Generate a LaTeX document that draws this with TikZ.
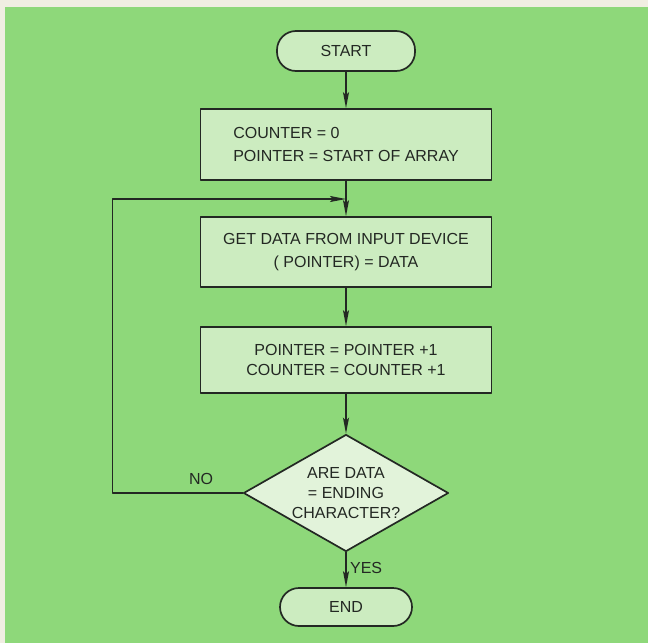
\documentclass[tikz,border=0pt]{standalone}
\usepackage{fontspec}
\setmainfont{Liberation Sans}
\usetikzlibrary{arrows.meta,shapes.geometric}

\definecolor{paperwhite}{RGB}{240,238,226}
\definecolor{boardgreen}{RGB}{142,216,122}
\definecolor{boxgreen}{RGB}{204,236,192}
\definecolor{testgreen}{RGB}{226,243,218}
\definecolor{inkblack}{RGB}{35,40,35}

\tikzset{
    termbox/.style={draw=inkblack,fill=boxgreen,line width=1.7pt,
        rounded corners=19pt,minimum height=40pt,inner sep=0pt},
    procbox/.style={draw=inkblack,fill=boxgreen,line width=1.7pt,
        minimum width=291pt,align=center,inner sep=0pt},
    testbox/.style={draw=inkblack,fill=testgreen,line width=1.7pt,diamond,
        aspect=1.75,inner sep=0pt,minimum width=205pt,minimum height=117pt,
        align=center},
    flow/.style={draw=inkblack,line width=1.5pt,
        -{Stealth[length=16pt,width=6pt,inset=3pt]}},
    lettering/.style={font=\fontsize{16}{23}\selectfont,text=inkblack}
}

\begin{document}
\begin{tikzpicture}[x=1pt,y=-1pt,line cap=round,line join=round]
        \useasboundingbox (0,0) rectangle (648,643);

        % Fondo
        \fill[paperwhite] (0,0) rectangle (648,643);
        \fill[boardgreen] (5,7) rectangle (648,643);

        % Bloques del diagrama
        \node[termbox,lettering,minimum width=138pt] (start) at (346,51) {START};
        \node[procbox,lettering,minimum height=71pt,align=left] (init) at (346,144.5)
            {COUNTER = 0\\POINTER = START OF ARRAY};
        \node[procbox,lettering,minimum height=70pt] (read) at (346,252)
            {GET DATA FROM INPUT DEVICE\\( POINTER) = DATA};
        \node[procbox,lettering,minimum height=66pt,
            font=\fontsize{16}{20}\selectfont] (advance) at (346,360)
            {POINTER = POINTER +1\\COUNTER = COUNTER +1};
        \node[testbox,lettering,font=\fontsize{16}{20}\selectfont] (test) at (346,493)
            {ARE DATA\\= ENDING\\CHARACTER?};
        \node[termbox,lettering,minimum width=132pt,minimum height=38pt] (finish)
            at (346,607) {END};
        \coordinate (merge) at (346,199);

        % Conexiones
        \draw[flow] (start) -- (init);
        \draw[flow] (init) -- (read);
        \draw[flow] (read) -- (advance);
        \draw[flow] (advance) -- (test);
        \draw[flow] (test) -- node[right,lettering,pos=0.45] {YES} (finish);

        % Regreso del lazo
        \draw[flow] (test.west) -- node[above=4pt,lettering,pos=0.32] {NO}
            ++(-130,0) |- (merge);

    \end{tikzpicture}
\end{document}
